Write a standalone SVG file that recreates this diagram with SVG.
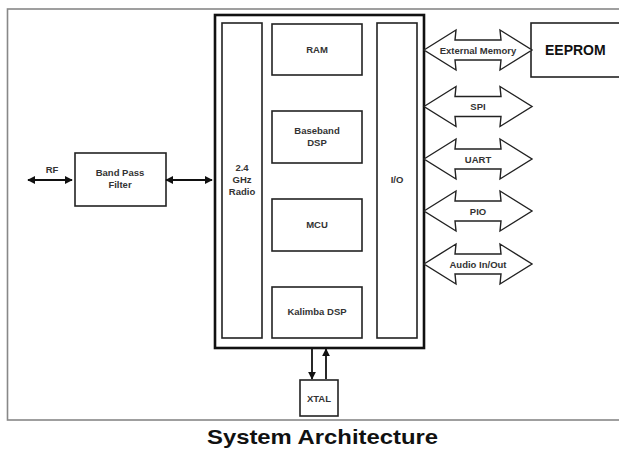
<svg xmlns="http://www.w3.org/2000/svg" width="619" height="449" viewBox="0 0 619 449">
<style>
.frame{fill:none;stroke:#888;stroke-width:1.6}
.chip{fill:#fff;stroke:#111;stroke-width:2.6}
.box{fill:#fff;stroke:#222;stroke-width:1.6}
.wide{fill:#fff;stroke:#222;stroke-width:1.4;stroke-linejoin:miter}
.ln{fill:none;stroke:#111;stroke-width:1.8}
.t{font-family:"Liberation Sans",Arial,sans-serif;font-size:9.5px;font-weight:bold;fill:#333;text-anchor:middle}
.big{font-family:"Liberation Sans",Arial,sans-serif;font-size:14px;font-weight:bold;fill:#111}
.title{font-family:"Liberation Sans",Arial,sans-serif;font-size:21px;font-weight:bold;fill:#111;text-anchor:middle}
</style>
<defs>
<marker id="ah" viewBox="0 0 10 10" refX="9" refY="5" markerWidth="4.4" markerHeight="4.4" orient="auto-start-reverse" markerUnits="strokeWidth">
<path d="M0,0 L10,5 L0,10 Z" fill="#111"/>
</marker>
<path id="wa" d="M0,0 L32,-20 L31,-10 L77,-10 L76,-20 L108,0 L76,20 L77,10 L31,10 L32,20 Z"/>
</defs>
<rect width="619" height="449" fill="#fff"/>
<rect class="frame" x="7.5" y="9" width="620" height="411"/>

<g id="chip">
<rect class="chip" x="215" y="15" width="209" height="333"/>
</g>
<g id="radio">
<rect class="box" x="222" y="23" width="40" height="315"/>
<text class="t" x="242" y="171">2.4</text>
<text class="t" x="242" y="183">GHz</text>
<text class="t" x="242" y="195">Radio</text>
</g>
<g id="ram">
<rect class="box" x="272" y="24" width="90" height="51"/>
<text class="t" x="317" y="53">RAM</text>
</g>
<g id="baseband">
<rect class="box" x="272" y="111" width="90" height="52"/>
<text class="t" x="317" y="134">Baseband</text>
<text class="t" x="317" y="146">DSP</text>
</g>
<g id="mcu">
<rect class="box" x="272" y="199" width="90" height="52"/>
<text class="t" x="317" y="228">MCU</text>
</g>
<g id="kalimba">
<rect class="box" x="272" y="287" width="90" height="51"/>
<text class="t" x="317" y="315">Kalimba DSP</text>
</g>
<g id="io">
<rect class="box" x="377" y="23" width="40" height="315"/>
<text class="t" x="397" y="183">I/O</text>
</g>
<g id="bpf">
<rect class="box" x="75" y="153" width="91" height="53"/>
<text class="t" x="120" y="176">Band Pass</text>
<text class="t" x="120" y="188">Filter</text>
</g>
<g id="eeprom">
<rect class="box" x="531" y="23" width="95" height="54"/>
<text class="big" x="545" y="55">EEPROM</text>
</g>
<g id="xtal">
<rect class="box" x="300" y="380" width="38" height="36"/>
<text class="t" x="319" y="402">XTAL</text>
</g>

<g id="connectors">
<line class="ln" x1="28" y1="180" x2="72" y2="180" marker-start="url(#ah)" marker-end="url(#ah)"/>
<text class="t" x="52" y="173">RF</text>
<line class="ln" x1="166" y1="180" x2="212" y2="180" marker-start="url(#ah)" marker-end="url(#ah)"/>
<line class="ln" x1="312" y1="349" x2="312" y2="379" marker-end="url(#ah)"/>
<line class="ln" x1="326" y1="379" x2="326" y2="349" marker-end="url(#ah)"/>
<use href="#wa" class="wide" x="424" y="50"/>
<use href="#wa" class="wide" x="424" y="106.5"/>
<use href="#wa" class="wide" x="424" y="159"/>
<use href="#wa" class="wide" x="424" y="211"/>
<use href="#wa" class="wide" x="424" y="264"/>
<text class="t" x="478" y="53.5">External Memory</text>
<text class="t" x="478" y="110">SPI</text>
<text class="t" x="478" y="162.5">UART</text>
<text class="t" x="478" y="214.5">PIO</text>
<text class="t" x="478" y="267.5">Audio In/Out</text>
</g>

<text class="title" x="322.5" y="444" textLength="231" lengthAdjust="spacingAndGlyphs">System Architecture</text>
</svg>
